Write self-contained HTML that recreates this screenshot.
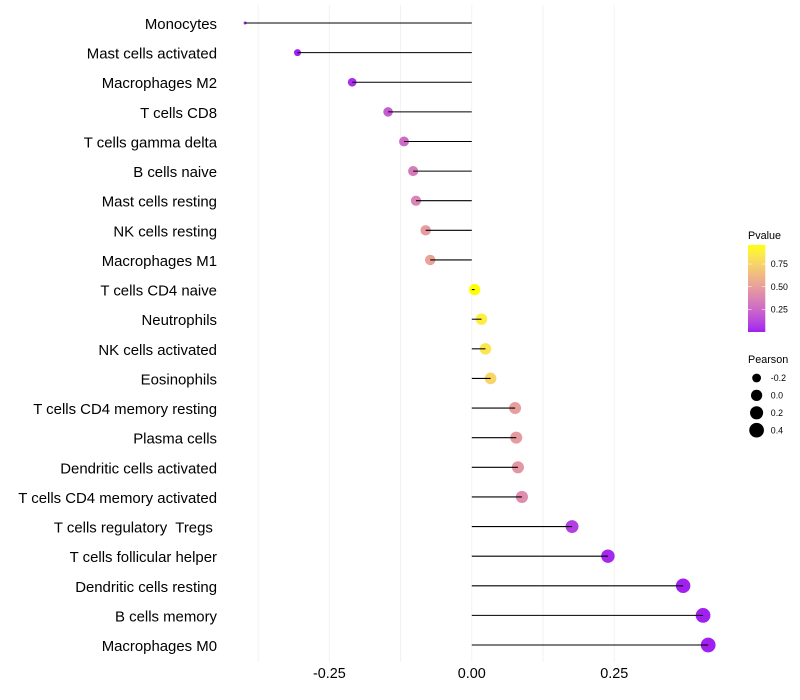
<!DOCTYPE html>
<html>
<head>
<meta charset="utf-8">
<title>Immune cell lollipop chart</title>
<style>
html,body{margin:0;padding:0;background:#fff;}
svg{display:block;font-family:"Liberation Sans",sans-serif;}
text{white-space:pre;fill:#000;}
</style>
</head>
<body>
<svg id="chart" width="800" height="700" viewBox="0 0 800 700" xmlns="http://www.w3.org/2000/svg">
<defs><linearGradient id="pvalue-gradient" x1="0" y1="1" x2="0" y2="0"></linearGradient></defs>
<g id="grid"></g>
<g id="dots"></g>
<g id="stems"></g>
<g id="ylabels"></g>
<g id="xlabels"></g>
<g id="legend-p">
<text x="748" y="239" font-size="10.8">Pvalue</text>
<rect id="colorbar" x="748" y="245" width="17.3" height="87" fill="url(#pvalue-gradient)"></rect>
</g>
<g id="legend-s">
<text x="748" y="363" font-size="10.8">Pearson</text>
</g>
</svg>
<script>
const categories = ["Monocytes","Mast cells activated","Macrophages M2","T cells CD8","T cells gamma delta","B cells naive","Mast cells resting","NK cells resting","Macrophages M1","T cells CD4 naive","Neutrophils","NK cells activated","Eosinophils","T cells CD4 memory resting","Plasma cells","Dendritic cells activated","T cells CD4 memory activated","T cells regulatory  Tregs ","T cells follicular helper","Dendritic cells resting","B cells memory","Macrophages M0"];
const pearson = [-0.398,-0.306,-0.21,-0.147,-0.119,-0.103,-0.098,-0.081,-0.073,0.005,0.017,0.024,0.033,0.076,0.078,0.081,0.088,0.176,0.239,0.371,0.406,0.415];
const pvalue = [0.02,0.0,0.04,0.2,0.26,0.33,0.37,0.48,0.52,0.96,0.88,0.84,0.76,0.5,0.48,0.46,0.41,0.09,0.02,0.0,0.0,0.0];
const xTicks = [-0.25,0,0.25];
const xTickLabels = ["-0.25","0.00","0.25"];
const xMinorTicks = [-0.375,-0.125,0.125];
const pTicks = [0.25,0.5,0.75];
const pTickLabels = ["0.25","0.50","0.75"];
const sizeBreaks = [-0.2,0,0.2,0.4];
const sizeBreakLabels = ["-0.2","0.0","0.2","0.4"];
const pDomain = [0,0.96];

const NS = "http://www.w3.org/2000/svg";
function x(v){ return 471.8 + v * 569.6; }
function y(i){ return 23 + i * 29.62; }
const pMin = Math.min.apply(null, pearson), pMax = Math.max.apply(null, pearson);
function radius(v){
  const t = Math.max(0, Math.min(1, (v - pMin) / (pMax - pMin)));
  return (3 + 11.8 * Math.sqrt(t)) / 2;
}
function pY(p){ return 332 - (p - pDomain[0]) / (pDomain[1] - pDomain[0]) * 87; }

function toLab(rgb){
  const f = rgb.map(function(c){ c /= 255; return c > 0.04045 ? Math.pow((c + 0.055) / 1.055, 2.4) : c / 12.92; });
  const X = (0.4124 * f[0] + 0.3576 * f[1] + 0.1805 * f[2]) / 0.95047;
  const Y = 0.2126 * f[0] + 0.7152 * f[1] + 0.0722 * f[2];
  const Z = (0.0193 * f[0] + 0.1192 * f[1] + 0.9505 * f[2]) / 1.08883;
  const g = function(t){ return t > 0.008856 ? Math.cbrt(t) : 7.787 * t + 16 / 116; };
  return [116 * g(Y) - 16, 500 * (g(X) - g(Y)), 200 * (g(Y) - g(Z))];
}
function fromLab(l){
  const fy = (l[0] + 16) / 116, fx = fy + l[1] / 500, fz = fy - l[2] / 200;
  const h = function(t){ return t * t * t > 0.008856 ? t * t * t : (t - 16 / 116) / 7.787; };
  const X = h(fx) * 0.95047, Y = h(fy), Z = h(fz) * 1.08883;
  const lin = [3.2406 * X - 1.5372 * Y - 0.4986 * Z, -0.9689 * X + 1.8758 * Y + 0.0415 * Z, 0.0557 * X - 0.204 * Y + 1.057 * Z];
  const out = lin.map(function(c){
    c = c > 0.0031308 ? 1.055 * Math.pow(c, 1 / 2.4) - 0.055 : 12.92 * c;
    return Math.round(Math.max(0, Math.min(1, c)) * 255);
  });
  return "rgb(" + out.join(",") + ")";
}
const labLow = toLab([160, 32, 240]), labHigh = toLab([255, 255, 0]);
function color(p){
  const t = Math.max(0, Math.min(1, (p - pDomain[0]) / (pDomain[1] - pDomain[0])));
  return fromLab(labLow.map(function(c, i){ return c + (labHigh[i] - c) * t; }));
}
function make(parent, tag, attrs, txt){
  const el = document.createElementNS(NS, tag);
  Object.keys(attrs).forEach(function(k){ el.setAttribute(k, attrs[k]); });
  if (txt !== undefined) el.textContent = txt;
  parent.appendChild(el);
  return el;
}
const get = function(id){ return document.getElementById(id); };

xMinorTicks.concat(xTicks).forEach(function(v){
  const el = make(get("grid"), "line", {x1: x(v), x2: x(v), y1: 5, y2: 662, stroke: "#f0f0f0", "stroke-width": 0.9});
  
  
});
xTicks.forEach(function(v, i){
  const el = make(get("xlabels"), "text", {x: x(v), y: 678, "text-anchor": "middle", "font-size": 14.4}, xTickLabels[i]);
  
  
});
categories.forEach(function(c, i){
  const lab = make(get("ylabels"), "text", {x: 217, y: y(i) + 6, "text-anchor": "end", "font-size": 14.93}, c);
  
  
  const dot = make(get("dots"), "circle", {cx: x(pearson[i]), cy: y(i), r: radius(pearson[i]), fill: color(pvalue[i])});
  
  
  const stem = make(get("stems"), "line", {x1: x(0), x2: x(pearson[i]), y1: y(i), y2: y(i), stroke: "#000", "stroke-width": 1.07});
  
  
});
for (let k = 0; k <= 20; k++) {
  const p = pDomain[0] + (pDomain[1] - pDomain[0]) * k / 20;
  make(get("pvalue-gradient"), "stop", {offset: (k * 5) + "%", "stop-color": color(p)});
}
pTicks.forEach(function(p, i){
  const yy = pY(p);
  const a = make(get("legend-p"), "line", {x1: 748, x2: 751.5, y1: yy, y2: yy, stroke: "#fff", "stroke-width": 0.7, opacity: 0.8});
  
  
  const b = make(get("legend-p"), "line", {x1: 761.8, x2: 765.3, y1: yy, y2: yy, stroke: "#fff", "stroke-width": 0.7, opacity: 0.8});
  
  
  const t = make(get("legend-p"), "text", {x: 770.8, y: yy + 3.1, "font-size": 8.8}, pTickLabels[i]);
  
  
});
sizeBreaks.forEach(function(v, i){
  const yy = 378 + i * 17.4;
  const c = make(get("legend-s"), "circle", {cx: 756.6, cy: yy, r: radius(v), fill: "#000"});
  
  
  const t = make(get("legend-s"), "text", {x: 770.8, y: yy + 3.1, "font-size": 8.8}, sizeBreakLabels[i]);
  
  
});
</script>
</body>
</html>
